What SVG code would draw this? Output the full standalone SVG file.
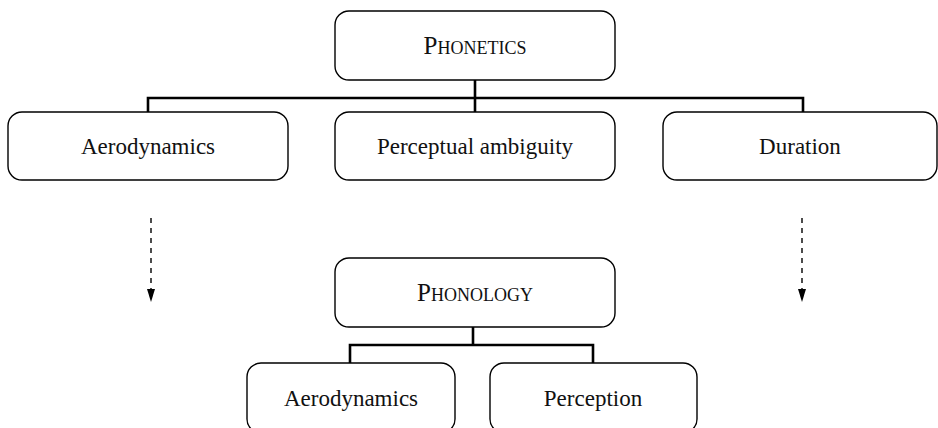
<svg xmlns="http://www.w3.org/2000/svg" width="938" height="428" viewBox="0 0 938 428">
<style>
.box{fill:#fff;stroke:#000;stroke-width:1.4}
.lbl{font-family:"Liberation Serif",serif;font-size:23px;fill:#111;text-anchor:middle}
.sc{font-variant:small-caps;font-size:25px}
.tree{fill:none;stroke:#000;stroke-width:2.6}
.dash{fill:none;stroke:#000;stroke-width:1.4;stroke-dasharray:5 5}
</style>
<g id="connectors">
<path class="tree" d="M475,80 V98 M148,112 V98 H803 V112 M475,98 V112"/>
<path class="tree" d="M473,327 V345 M350,363 V345 H593 V363"/>
<line class="dash" x1="151" y1="218" x2="151" y2="290"/>
<path d="M147,289 L155,289 L151,302 Z" fill="#000"/>
<line class="dash" x1="802" y1="218" x2="802" y2="290"/>
<path d="M798,289 L806,289 L802,302 Z" fill="#000"/>
</g>
<g id="phonetics">
<rect class="box" x="335" y="11" width="280" height="69" rx="14"/>
<text class="lbl sc" x="475" y="54">Phonetics</text>
</g>
<g id="aerodynamics1">
<rect class="box" x="8" y="112" width="280" height="68" rx="14"/>
<text class="lbl" x="148" y="154">Aerodynamics</text>
</g>
<g id="perceptual">
<rect class="box" x="335" y="112" width="280" height="68" rx="14"/>
<text class="lbl" x="475" y="154">Perceptual ambiguity</text>
</g>
<g id="duration">
<rect class="box" x="663" y="112" width="274" height="68" rx="14"/>
<text class="lbl" x="800" y="154">Duration</text>
</g>
<g id="phonology">
<rect class="box" x="335" y="258" width="280" height="69" rx="14"/>
<text class="lbl sc" x="475" y="301">Phonology</text>
</g>
<g id="aerodynamics2">
<rect class="box" x="247" y="363" width="208" height="70" rx="14"/>
<text class="lbl" x="351" y="406">Aerodynamics</text>
</g>
<g id="perception">
<rect class="box" x="490" y="363" width="207" height="70" rx="14"/>
<text class="lbl" x="593" y="406">Perception</text>
</g>
</svg>
